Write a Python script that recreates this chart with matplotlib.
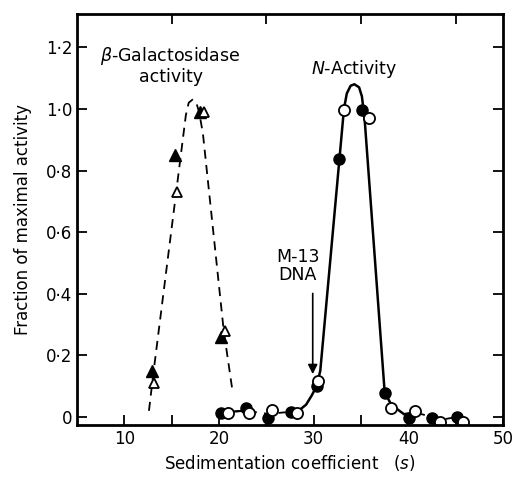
import matplotlib.pyplot as plt
import matplotlib.ticker as mticker

# beta-galactosidase (triangles)
gal_x_filled = [12.97, 15.3, 17.95, 20.26]
gal_y_filled = [0.15, 0.85, 0.99, 0.26]
gal_x_open = [13.1, 15.56, 18.4, 20.6]
gal_y_open = [0.11, 0.73, 0.99, 0.28]
gal_curve_x = [12.6, 13.1, 15.6, 16.5, 16.8, 17.2, 17.6, 17.9, 18.3, 20.5, 21.4]
gal_curve_y = [0.02, 0.15, 0.76, 0.98, 1.02, 1.03, 1.02, 0.99, 0.92, 0.28, 0.09]

# N-activity (circles)
n_x_filled = [20.2, 22.8, 25.2, 27.6, 30.3, 32.7, 35.1, 37.5, 40.05, 42.5, 45.1]
n_y_filled = [0.013, 0.028, -0.004, 0.017, 0.099, 0.836, 0.997, 0.077, -0.004, -0.004, 0.001]
n_x_open = [21.0, 23.2, 25.6, 28.2, 30.5, 33.2, 35.8, 38.2, 40.7, 43.3, 45.8]
n_y_open = [0.013, 0.014, 0.023, 0.014, 0.117, 0.997, 0.97, 0.028, 0.02, -0.015, -0.015]

n_low_x = [20.2, 22.8, 25.2, 27.6, 28.4]
n_low_y = [0.015, 0.02, 0.01, 0.017, 0.02]
n_peak_x = [28.4, 29.2, 29.8, 30.3, 30.7, 33.2, 33.5, 33.9, 34.3, 34.8, 35.1, 35.4, 37.5, 38.2, 39.5]
n_peak_y = [0.02, 0.04, 0.07, 0.10, 0.15, 1.0, 1.05, 1.075, 1.08, 1.07, 1.04, 0.96, 0.08, 0.04, 0.01]
n_tail_x = [39.5, 40.7, 42.5, 43.3, 45.1, 45.8]
n_tail_y = [0.01, 0.015, 0.0, -0.01, 0.0, -0.01]

y_ticks = [0, 0.2, 0.4, 0.6, 0.8, 1.0, 1.2]
y_labels = ['0', '0·2', '0·4', '0·6', '0·8', '1·0', '1·2']
x_ticks = [10, 20, 30, 40, 50]

plt.rcParams['font.family'] = ['DejaVu Sans']

fig = plt.figure(figsize=(5.14, 4.79), dpi=100)
ax = fig.add_axes([77/514, 1 - 425/479, (503-77)/514, (425-14)/479])

ax.plot(gal_curve_x, gal_curve_y, color='black', lw=1.3, ls=(0, (5, 3.5)))
ax.plot(n_low_x, n_low_y, color='black', lw=1.3, ls=(0, (4, 4)))
ax.plot([20.2, 22.5], [0.015, 0.02], color='black', lw=1.5)
ax.plot(n_peak_x, n_peak_y, color='black', lw=1.8)
ax.plot(n_tail_x, n_tail_y, color='black', lw=1.3, ls=(0, (4, 4)))

ax.plot(gal_x_filled, gal_y_filled, '^', color='black', ms=8)
ax.plot(gal_x_open, gal_y_open, '^', mfc='white', mec='black', mew=1.3, ms=7)
ax.plot(n_x_filled, n_y_filled, 'o', color='black', ms=8)
ax.plot(n_x_open, n_y_open, 'o', mfc='white', mec='black', mew=1.3, ms=8)

ax.annotate('', xy=(29.9, 0.13), xytext=(29.9, 0.41),
            arrowprops=dict(arrowstyle='-|>', color='black', lw=1.2, mutation_scale=14))
ax.text(28.3, 0.49, 'M-13\nDNA', ha='center', va='center', fontsize=12.5, linespacing=1.05)
ax.text(14.9, 1.14, '$\\beta$-Galactosidase\nactivity', ha='center', va='center',
        fontsize=12.5, linespacing=1.1)
ax.text(34.3, 1.13, '$N$-Activity', ha='center', va='center', fontsize=12.5)

ax.set_xlim(5, 50)
ax.set_ylim(-0.026, 1.308)
ax.set_xticks(x_ticks)
ax.set_xticks([10, 15, 20, 25, 30, 35, 40, 45], minor=True)
ax.set_yticks(y_ticks)
ax.yaxis.set_major_formatter(mticker.FixedFormatter(y_labels))
ax.tick_params(which='both', direction='in', top=True, right=True, length=7, width=1.3,
               labelsize=12)
ax.tick_params(axis='x', which='major', top=False)
for s in ax.spines.values():
    s.set_linewidth(2)

ax.set_xlabel('Sedimentation coefficient   $(s)$', fontsize=12, labelpad=4)
ax.set_ylabel('Fraction of maximal activity', fontsize=12, labelpad=10)

fig.savefig('out.png', dpi=100)
